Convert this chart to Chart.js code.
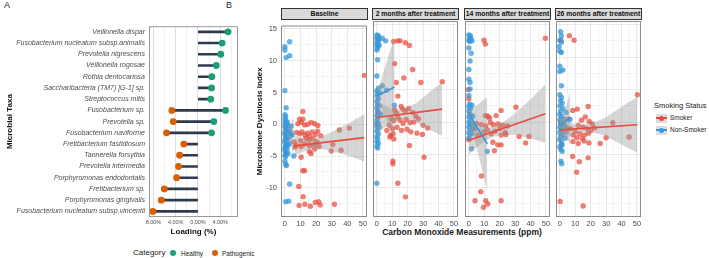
<!DOCTYPE html>
<html lang="en">
<head>
<meta charset="UTF-8">
<title>Taxa loadings and dysbiosis index vs carbon monoxide</title>
<script src="https://cdn.jsdelivr.net/npm/chart.js"></script>
<style>
  body { margin: 0; background: #fff; font-family: "Liberation Sans", Arial, sans-serif; }
  #fig { position: relative; width: 709px; height: 258px; overflow: hidden; }
  canvas { position: absolute; }
  .txt { position: absolute; white-space: nowrap; color: #1a1a1a; }
  .strip { position: absolute; top: 8px; height: 12px; box-sizing: border-box; background: #d9d9d9;
           border: 0.8px solid #333; font-size: 6.8px; font-weight: bold; text-align: center;
           line-height: 10.5px; white-space: nowrap; overflow: hidden; color: #111; }
  .dot { position: absolute; border-radius: 50%; }
  .key { position: absolute; width: 11px; height: 9px; background: #dcdcdc; }
  .key i { position: absolute; left: 0; top: 3.5px; width: 11px; height: 1.6px; }
  .key b { position: absolute; left: 3px; top: 2px; width: 5px; height: 5px; border-radius: 50%; }
</style>
</head>
<body>
<div id="fig">
  <div class="txt" style="left:4px;top:0px;font-size:9px;">A</div>
  <div class="txt" style="left:226px;top:0px;font-size:9px;">B</div>

  <div class="txt" style="left:133px;top:248px;font-size:8px;">Category</div>
  <div class="dot" style="left:169.7px;top:249.7px;width:6.6px;height:6.6px;background:#1B9E77;"></div>
  <div class="txt" style="left:181px;top:249.5px;font-size:6.5px;">Healthy</div>
  <div class="dot" style="left:211.7px;top:249.7px;width:6.6px;height:6.6px;background:#D95F02;"></div>
  <div class="txt" style="left:222px;top:249.5px;font-size:6.5px;">Pathogenic</div>

  <div class="txt" style="left:654px;top:101px;font-size:7.5px;">Smoking Status</div>
  <div class="key" style="left:656px;top:113.5px;"><i style="background:#E74C3C"></i><b style="background:#E74C3C"></b></div>
  <div class="txt" style="left:670px;top:114px;font-size:6.5px;">Smoker</div>
  <div class="key" style="left:656px;top:125.5px;"><i style="background:#3498DB"></i><b style="background:#3498DB"></b></div>
  <div class="txt" style="left:670px;top:126px;font-size:6.5px;">Non-Smoker</div>

  <div class="txt" style="left:462px;top:227px;font-size:8.5px;font-weight:bold;transform:translateX(-50%);">Carbon Monoxide Measurements (ppm)</div>
  <canvas id="loadings" width="242" height="222" style="left:0px;top:18px;"></canvas>
</div>

<script>
// ---- Panel A: taxa loadings (%) ----
const taxa = [
  'Veillonella dispar', 'Fusobacterium nucleatum subsp.animalis', 'Prevotella nigrescens',
  'Veillonella rogosae', 'Rothia dentocariosa', 'Saccharibacteria (TM7) [G-1] sp.',
  'Streptococcus mitis', 'Fusobacterium sp.', 'Prevotella sp.', 'Fusobacterium naviforme',
  'Fretibacterium fastidiosum', 'Tannerella forsythia', 'Prevotella intermedia',
  'Porphyromonas endodontalis', 'Fretibacterium sp.', 'Porphyromonas gingivalis',
  'Fusobacterium nucleatum subsp.vincentii'
];
const healthyLoading = [5.4, 4.35, 4.1, 3.3, 2.5, 2.45, 2.3, 4.95, 2.85, 2.45,
  null, null, null, null, null, null, null];
const pathogenicLoading = [null, null, null, null, null, null, null, -4.7, -4.45, -5.65,
  -2.55, -3.3, -3.5, -3.85, -6.05, -6.6, -8.1];
const loadingTicks = [-8, -4, 0, 4];
const loadingTickLabels = ['8.00%', '4.00%', '0.00%', '4.00%'];

// ---- Panel B: dysbiosis index vs CO (ppm), points as [co, mdi] ----
const facetTitles = ['Baseline', '2 months after treatment', '14 months after treatment', '26 months after treatment'];
const coMajor = [0, 10, 20, 30, 40, 50];
const mdiMajor = [-10, -5, 0, 5, 10, 15];

const baselineSmoker = [[50.9,7.7],[11.5,2.0],[9.4,0.8],[11.5,0.8],[8.3,0.1],[10.5,0.3],[12.6,-0.1],[14.7,0.0],[16.8,0.3],
  [19.0,0.1],[21.1,-0.2],[34.9,-0.9],[41.3,-0.6],[7.5,-1.3],[9.5,-1.5],[11.0,-1.2],[12.8,-1.7],[14.5,-1.4],[16.0,-1.9],
  [17.5,-1.2],[19.5,-1.6],[21.0,-1.1],[13.5,-2.2],[15.5,-2.5],[18.0,-2.3],[10.0,-2.6],[20.5,-2.8],[23.0,-1.8],[6.0,-2.8],
  [6.5,-3.6],[7.2,-3.3],[10.4,-3.5],[12.7,-3.1],[15.7,-3.4],[18.8,-3.2],[21.9,-3.5],[30.7,-3.2],[36.0,-4.1],[15.7,-4.3],
  [16.8,-4.6],[19.1,-3.9],[29.7,-4.2],[10.4,-5.2],[11.5,-7.3],[12.6,-7.3],[8.9,-9.8],[11.7,-11.4],[9.1,-12.8],[12.8,-12.6],
  [16.3,-12.9],[19.5,-12.3],[21.6,-12.2],[22.6,-12.7],[31.7,-12.6]];
const baselineNonSmoker = [[3.0,13.0],[0,12.2],[0,11.7],[0.8,10.5],[3.0,10.8],[0,5.3],[0.8,2.6],[0,1.5],[0.5,1.2],[0,0.8],
  [1,0.5],[0,0.2],[0.5,-0.1],[1.5,0.3],[0,-0.4],[2,-0.2],[0.5,-0.7],[1,-1.0],[0,-1.2],[2.5,-0.8],[3.5,-1.2],[0,-1.6],
  [1,-1.8],[0.5,-2.1],[1.5,-2.3],[0,-2.5],[2,-1.5],[3,-2.0],[4.5,-1.6],[0,-2.9],[1,-3.1],[0.5,-3.4],[0,-3.7],[2,-3.3],
  [1.5,-3.9],[0,-4.1],[0.5,-4.4],[1,-4.7],[0,-4.9],[2,-4.6],[0.5,-5.1],[3,-3.0],[4,-0.3],[5.7,-5.0],[0,-5.8],[0.5,-6.3],
  [1,-6.5],[3,-9.4],[0.5,-12.2],[2.5,-12.1]];
const baselineSmokerFit = [[6.2,-3.4],[50.9,-2.1]];
const baselineNonSmokerFit = [[0,-0.5],[5.7,-2.0]];
const baselineSmokerBand = [[6.2,-5.1,-1.7],[10,-4.5,-2.1],[15,-4.0,-2.3],[20,-3.85,-2.15],[25,-3.95,-1.75],[30,-4.2,-1.2],
  [35,-4.55,-0.55],[40,-4.9,0.1],[45,-5.3,0.75],[50.9,-5.9,1.6]];
const baselineNonSmokerBand = [[0,-1.0,0.0],[1,-1.35,-0.45],[2,-1.95,-0.45],[3,-2.6,-0.2],[4,-3.3,0.2],[5.7,-5.0,1.0]];

const month2Smoker = [[10.9,12.4],[13.6,12.5],[15.1,12.5],[18.5,12.2],[21.1,11.8],[11.5,9.0],[23.2,8.1],[17.5,6.8],[28.5,6.1],
  [42.4,6.2],[12.6,6.1],[13.6,4.0],[15.7,2.4],[16.8,2.0],[20.6,2.1],[18.5,1.7],[23.2,1.5],[25.3,0.9],[12.6,1.4],[11.5,1.9],
  [9.5,0.5],[11.0,0.2],[13.5,0.8],[15.0,0.3],[17.0,-0.2],[19.0,0.4],[21.5,-0.1],[24.0,0.0],[27.0,0.5],[30.0,-0.5],
  [33.0,-0.9],[8.0,-0.5],[10.0,-1.0],[13.0,-0.8],[16.0,-1.3],[19.5,-1.1],[22.0,-1.5],[26.0,-1.7],[29.5,-1.9],[6.5,-1.3],
  [9.0,-2.0],[10.5,-1.8],[8.5,-2.3],[11.0,-2.6],[21.1,-3.6],[30.6,-5.4],[10.4,-6.0],[10.4,-6.4],[13.6,-9.4],[18.5,-11.5],
  [0,-0.3],[0.5,1.5]];
const month2NonSmoker = [[0,13.4],[0.5,13.1],[1,13.3],[0,12.9],[1.5,12.7],[0.5,12.5],[0,12.2],[1,12.0],[0,11.7],[0.5,11.4],
  [1.5,11.8],[0,11.1],[5.7,12.5],[3.5,12.9],[0.5,9.6],[0,7.1],[1,5.2],[0,4.8],[0.5,4.4],[2,4.5],[0,4.0],[1,3.6],[0,3.2],
  [0.5,2.8],[1.5,2.5],[0,2.2],[0.5,1.8],[1,1.4],[0,1.0],[2.5,1.2],[0.5,0.6],[0,0.2],[1,-0.2],[0,-0.6],[0.5,-1.0],
  [1.5,-0.8],[0,-1.4],[1,-1.8],[0,-2.2],[0.5,-2.6],[0,-3.0],[1,-3.3],[0,-3.7],[0.5,-4.0],[0,-9.4],[6.3,4.9],[3.5,5.6],
  [11.3,2.6]];
const month2SmokerFit = [[0,0.7],[42.3,2.0]];
const month2NonSmokerFit = [[0,4.0],[11.5,5.4]];
const month2SmokerBand = [[0,-1.9,3.3],[5,-0.85,2.55],[10,0.0,2.0],[15,0.35,1.95],[20,0.4,2.2],[25,0.05,2.85],[30,-0.6,3.8],
  [35,-1.25,4.8],[42.3,-2.1,6.1]];
const month2NonSmokerBand = [[0,3.0,5.0],[2,2.65,5.85],[4,1.5,7.5],[6,0.45,9.0],[8,-0.6,10.6],[10,-1.7,12.1],[11.5,-2.4,13.2]];

const month14Smoker = [[9.8,12.6],[10.7,12.0],[49.6,12.9],[-0.4,5.0],[0,3.6],[30.5,2.3],[20.9,1.8],[10.7,1.0],[12.4,0.9],
  [17.7,1.0],[13.4,0.6],[4.9,-0.2],[11.0,-0.6],[14.0,-0.1],[16.0,-0.4],[19.0,-0.3],[22.0,-0.5],[25.0,-0.6],[8.0,-0.4],
  [10.0,-1.5],[12.0,-1.2],[14.5,-1.8],[17.0,-1.4],[20.0,-1.0],[24.0,-1.9],[32.6,-2.2],[39.0,-2.2],[21.0,-2.0],[23.5,-1.6],
  [36.8,-3.2],[15.6,-3.1],[18.8,-3.5],[20.9,-3.5],[16.6,-4.4],[0,-2.7],[3.0,-1.0],[6.0,-2.0],[8.1,-8.3],[7.7,-10.7],
  [4.0,-12.1],[10.9,-12.1],[12.2,-12.6],[9.5,-13.1],[20.9,-12.1]];
const month14NonSmoker = [[0,13.4],[0.5,13.0],[1,13.3],[0,12.6],[1.5,12.8],[0.5,12.4],[2,12.5],[0,11.4],[1.5,10.6],[0.8,9.4],
  [0,8.1],[0,6.6],[0.8,6.1],[0.8,5.1],[0,4.1],[0.5,2.8],[0,2.4],[1,2.1],[2,2.6],[0,1.7],[0.5,1.3],[1.5,1.0],[0,0.8],
  [1,0.4],[2.5,0.9],[0,0.0],[0.5,-0.4],[1.5,-0.2],[0,-0.8],[1,-1.2],[3,-0.6],[0,-1.6],[0.5,-2.0],[2,-1.8],[0,-2.5],
  [4,-1.0],[1.7,-4.1],[12.0,-4.5]];
const month14SmokerFit = [[0,-2.8],[49.6,1.3]];
const month14NonSmokerFit = [[0,1.3],[12,-3.4]];
const month14SmokerBand = [[0,-4.9,-0.7],[5,-3.9,-0.9],[10,-2.95,-0.95],[15,-2.35,-0.75],[20,-2.05,-0.25],[25,-1.95,0.45],
  [30,-2.0,1.4],[40,-2.5,3.5],[49.6,-3.2,5.8]];
const month14NonSmokerBand = [[0,0.3,2.3],[2,-1.0,2.0],[4,-2.9,2.35],[6,-4.85,2.75],[8,-6.85,3.15],[10,-8.7,3.5],[12,-10.6,3.8]];

const month26Smoker = [[6.2,13.3],[9.2,12.6],[0.7,12.6],[50.3,4.2],[8.4,1.8],[11.3,2.0],[18.3,2.4],[34.3,-0.1],[44.9,-2.3],
  [30.0,-2.4],[26.2,-3.3],[14.0,0.3],[16.5,0.8],[19.0,0.1],[21.0,-0.3],[12.0,-0.5],[15.0,-0.8],[17.5,-1.0],[20.0,-1.3],
  [22.5,-0.9],[10.0,-1.5],[13.0,-1.8],[16.0,-2.0],[18.5,-1.7],[11.0,-2.4],[14.5,-2.5],[7.0,-1.0],[8.5,-2.0],[5.5,0.5],
  [4.0,-1.5],[3.0,-0.5],[8.4,-3.0],[11.9,-3.3],[15.7,-2.9],[18.8,-3.2],[8.3,-5.3],[18.3,-5.5],[12.6,-6.1],[10.9,-7.7],
  [0.2,-12.2],[15.1,-12.9],[1.0,-3.5],[0.5,0.0]];
const month26NonSmoker = [[0.5,13.9],[1,13.3],[0,12.6],[1,12.3],[-0.5,11.6],[0,10.9],[1,10.7],[0,8.6],[2,8.0],[0,7.8],
  [1,5.6],[0,4.2],[1,3.8],[0.5,3.3],[1.5,2.9],[0,2.5],[2,2.1],[0.5,1.7],[0,1.2],[1,0.9],[2.5,0.5],[0,0.4],[1.5,0.0],
  [0.5,-0.4],[0,-0.8],[3,-0.6],[1,-1.2],[0,-1.6],[2,-1.9],[0.5,-2.2],[0,-2.7],[1,-3.0],[1.5,-3.5],[0,-3.8],[0.7,-4.2],
  [1.5,-4.5],[0.7,-6.0],[1.2,-6.4],[4,1.5],[5,-1.0],[3.5,-2.5],[6.6,0.4]];
const month26SmokerFit = [[0,-1.2],[50.3,-0.4]];
const month26NonSmokerFit = [[0,-0.6],[6.6,0.6]];
const month26SmokerBand = [[0,-2.8,0.4],[5,-2.2,0.0],[10,-1.75,-0.35],[15,-1.55,-0.35],[20,-1.6,-0.2],[25,-1.8,0.2],
  [30,-2.2,0.8],[40,-3.45,2.35],[50.3,-4.7,3.9]];
const month26NonSmokerBand = [[0,-1.3,0.1],[2,-1.6,1.0],[4,-2.3,2.4],[6.6,-3.4,4.6]];

const FONT = '"Liberation Sans", Arial, sans-serif';
Chart.defaults.font.family = FONT;

const panelBorder = {
  id: 'panelBorder',
  afterDatasetsDraw(chart, args, opts) {
    const { ctx, chartArea: a } = chart;
    ctx.save();
    ctx.strokeStyle = opts.color || '#999';
    ctx.lineWidth = 1;
    ctx.strokeRect(a.left + 0.5, a.top + 0.5, a.width - 1, a.height - 1);
    ctx.restore();
  }
};
Chart.register(panelBorder);

// Panel A
const segments = taxa.map((t, i) => [pathogenicLoading[i] ?? 0, healthyLoading[i] ?? 0]);

new Chart(document.getElementById('loadings'), {
  type: 'bar',
  data: {
    labels: taxa,
    datasets: [
      { type: 'line', indexAxis: 'y', label: 'Healthy', data: healthyLoading, showLine: false,
        pointRadius: 3.4, pointBackgroundColor: '#1B9E77', pointBorderWidth: 0, order: 0 },
      { type: 'line', indexAxis: 'y', label: 'Pathogenic', data: pathogenicLoading, showLine: false,
        pointRadius: 3.4, pointBackgroundColor: '#D95F02', pointBorderWidth: 0, order: 0 },
      { type: 'bar', indexAxis: 'y', data: segments, backgroundColor: '#2E3B4C', barThickness: 2, order: 1 }
    ]
  },
  options: {
    indexAxis: 'y',
    responsive: false,
    animation: false,
    events: [],
    layout: { padding: { top: 2.5, right: 4, left: 0, bottom: 0 } },
    plugins: { legend: { display: false }, tooltip: { enabled: false }, panelBorder: { color: '#9a9a9a' } },
    scales: {
      x: {
        type: 'linear', min: -8.8, max: 7.2,
        afterBuildTicks: ax => { ax.ticks = [-8, -6, -4, -2, 0, 2, 4, 6].map(v => ({ value: v })); },
        afterFit: ax => { ax.height = 23; },
        ticks: {
          callback: v => { const k = loadingTicks.indexOf(v); return k < 0 ? '' : loadingTickLabels[k]; },
          font: { size: 5.5 }, color: '#4d4d4d', padding: 2, maxRotation: 0, autoSkip: false
        },
        grid: { color: c => (c.tick && c.tick.value % 4 === 0) ? '#d6d6d6' : '#ebebeb', lineWidth: 0.8, drawTicks: false },
        border: { display: false },
        title: { display: true, text: 'Loading (%)', font: { size: 8, weight: 'bold' }, color: '#111', padding: { top: 0, bottom: 3 } }
      },
      y: {
        type: 'category',
        afterFit: ax => { ax.width = 149; },
        ticks: { font: { size: 7, style: 'italic' }, color: '#4d4d4d', padding: 4, autoSkip: false },
        grid: { display: false, drawTicks: false },
        border: { display: false },
        title: { display: true, text: 'Microbial Taxa', font: { size: 8, weight: 'bold' }, color: '#111', padding: { top: 4.5, bottom: 0 } }
      }
    }
  }
});

// Panel B facets
const fig = document.getElementById('fig');
const facetLefts = [281, 372, 464, 555];
const facetW = 87;
const pts = a => a.map(p => ({ x: p[0], y: p[1] }));

function facet(i, smoker, nonSmoker, smokerFit, nonFit, smokerBand, nonBand) {
  const first = i === 0;
  const axisW = first ? 31 : 0;
  const padL = first ? 0 : 3;
  const cv = document.createElement('canvas');
  cv.width = axisW + padL + facetW + 3;
  cv.height = 213;
  cv.style.left = (facetLefts[i] - axisW - padL) + 'px';
  cv.style.top = '17px';
  fig.appendChild(cv);

  const strip = document.createElement('div');
  strip.className = 'strip';
  strip.style.left = facetLefts[i] + 'px';
  strip.style.width = facetW + 'px';
  strip.textContent = facetTitles[i];
  fig.appendChild(strip);

  const band = { type: 'line', borderColor: 'transparent', borderWidth: 1, pointRadius: 0, order: 1 };
  const fit = { type: 'line', borderWidth: 1.6, pointRadius: 0, order: 0 };
  const dots = { pointRadius: 2.7, pointBorderWidth: 0, order: 2 };

  new Chart(cv, {
    type: 'scatter',
    data: {
      datasets: [
        { ...fit, data: pts(smokerFit), borderColor: '#E74C3C' },
        { ...fit, data: pts(nonFit), borderColor: '#3498DB' },
        { ...band, data: smokerBand.map(b => ({ x: b[0], y: b[2] })), fill: '+1', backgroundColor: 'rgba(153,153,153,0.4)' },
        { ...band, data: smokerBand.map(b => ({ x: b[0], y: b[1] })), fill: false },
        { ...band, data: nonBand.map(b => ({ x: b[0], y: b[2] })), fill: '+1', backgroundColor: 'rgba(153,153,153,0.4)' },
        { ...band, data: nonBand.map(b => ({ x: b[0], y: b[1] })), fill: false },
        { ...dots, data: pts(nonSmoker), backgroundColor: 'rgba(52,152,219,0.75)', pointBackgroundColor: 'rgba(52,152,219,0.75)' },
        { ...dots, data: pts(smoker), backgroundColor: 'rgba(231,76,60,0.72)', pointBackgroundColor: 'rgba(231,76,60,0.72)' }
      ]
    },
    options: {
      responsive: false,
      animation: false,
      events: [],
      layout: { padding: { top: 3, right: 3, left: padL, bottom: 0 } },
      plugins: { legend: { display: false }, tooltip: { enabled: false }, panelBorder: { color: '#8c8c8c' } },
      scales: {
        x: {
          type: 'linear', min: -2.5, max: 52.6,
          afterBuildTicks: ax => { ax.ticks = [0, 5, 10, 15, 20, 25, 30, 35, 40, 45, 50].map(v => ({ value: v })); },
          afterFit: ax => { ax.height = 13; },
          ticks: { callback: v => coMajor.includes(v) ? String(v) : '', font: { size: 7.5 }, color: '#4d4d4d',
                   padding: 2, maxRotation: 0, autoSkip: false },
          grid: { color: c => (c.tick && c.tick.value % 10 === 0) ? '#e3e3e3' : '#f1f1f1', lineWidth: 0.8, drawTicks: false },
          border: { display: false }
        },
        y: {
          type: 'linear', min: -14.6, max: 15.55,
          afterBuildTicks: ax => { ax.ticks = [-12.5, -10, -7.5, -5, -2.5, 0, 2.5, 5, 7.5, 10, 12.5, 15].map(v => ({ value: v })); },
          afterFit: ax => { ax.width = axisW; },
          ticks: { display: first, callback: v => mdiMajor.includes(v) ? String(v) : '', font: { size: 7.5 },
                   color: '#4d4d4d', padding: 4, autoSkip: false },
          grid: { color: c => (c.tick && c.tick.value % 5 === 0) ? '#e3e3e3' : '#f1f1f1', lineWidth: 0.8, drawTicks: false },
          border: { display: false },
          title: { display: first, text: 'Microbiome Dysbiosis Index', font: { size: 8, weight: 'bold' }, color: '#111',
                   padding: { top: 5, bottom: 0 } }
        }
      }
    }
  });
}

facet(0, baselineSmoker, baselineNonSmoker, baselineSmokerFit, baselineNonSmokerFit, baselineSmokerBand, baselineNonSmokerBand);
facet(1, month2Smoker, month2NonSmoker, month2SmokerFit, month2NonSmokerFit, month2SmokerBand, month2NonSmokerBand);
facet(2, month14Smoker, month14NonSmoker, month14SmokerFit, month14NonSmokerFit, month14SmokerBand, month14NonSmokerBand);
facet(3, month26Smoker, month26NonSmoker, month26SmokerFit, month26NonSmokerFit, month26SmokerBand, month26NonSmokerBand);
</script>
</body>
</html>
